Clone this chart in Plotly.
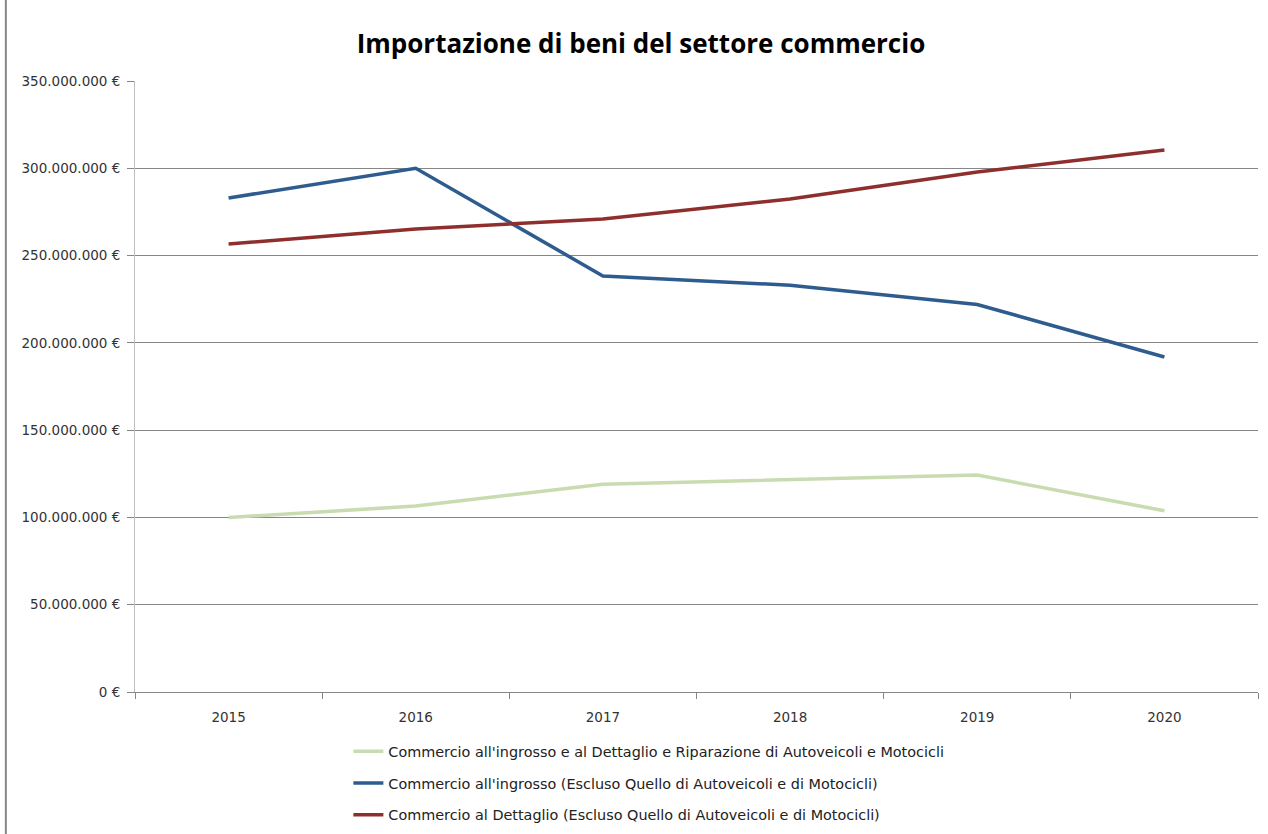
import plotly.graph_objects as go

# Years on the category axis
anni = ["2015", "2016", "2017", "2018", "2019", "2020"]

# Import values in euro for each sector
ingrosso_dettaglio_riparazione = [100_000_000, 106_500_000, 119_000_000, 121_500_000, 124_300_000, 103_800_000]
ingrosso = [283_000_000, 300_000_000, 238_300_000, 233_000_000, 222_000_000, 191_900_000]
dettaglio = [256_600_000, 265_200_000, 271_000_000, 282_400_000, 297_900_000, 310_500_000]

serie_nomi = [
    "Commercio all'ingrosso e al Dettaglio e Riparazione di Autoveicoli e Motocicli",
    "Commercio all'ingrosso (Escluso Quello di Autoveicoli e di Motocicli)",
    "Commercio al Dettaglio (Escluso Quello di Autoveicoli e di Motocicli)",
]

# Y axis ticks
y_ticks = [0, 50_000_000, 100_000_000, 150_000_000, 200_000_000, 250_000_000, 300_000_000, 350_000_000]
y_tick_labels = ["0 €", "50.000.000 €", "100.000.000 €", "150.000.000 €", "200.000.000 €",
                 "250.000.000 €", "300.000.000 €", "350.000.000 €"]

colori = ["#c9dbb0", "#2f5c8f", "#8f2f2d"]

fig = go.Figure()
for i, (nome, valori, colore) in enumerate(zip(serie_nomi, [ingrosso_dettaglio_riparazione, ingrosso, dettaglio], colori)):
    fig.add_trace(go.Scatter(
        x=anni, y=valori, name=nome, mode="lines",
        legendgroup=f"g{i}",
        line=dict(color=colore, width=3.5),
    ))

fig.update_layout(
    width=1268, height=834,
    paper_bgcolor="white", plot_bgcolor="white",
    margin=dict(l=135, r=10, t=81, b=142, autoexpand=False),
    title=dict(
        text="<b>Importazione di beni del settore commercio</b>",
        x=0.5055, xanchor="center", y=0.947, yanchor="middle",
        font=dict(family="Open Sans", size=26, color="black"),
    ),
    font=dict(family="DejaVu Sans", size=13.5, color="#333333"),
    showlegend=True,
    legend=dict(
        orientation="v", x=0.19, xanchor="left", y=-0.071, yanchor="top",
        font=dict(family="DejaVu Sans", size=14.4, color="#222222"),
        tracegroupgap=10, itemwidth=30,
    ),
)

fig.update_xaxes(
    type="category", range=[-0.5, 5.5],
    showline=True, linecolor="#868686", linewidth=1,
    ticks="outside", tickson="boundaries", ticklen=6, tickcolor="#868686",
    ticklabelstandoff=13,
    showgrid=False, automargin=False,
    tickfont=dict(family="DejaVu Sans", size=13.5, color="#333333"),
)
fig.update_yaxes(
    range=[0, 350_000_000],
    tickvals=y_ticks, ticktext=y_tick_labels,
    showline=True, linecolor="#bfbfbf", linewidth=1,
    ticks="outside", ticklen=7, tickcolor="#868686",
    ticklabelstandoff=4, automargin=False,
    showgrid=True, gridcolor="#868686", gridwidth=1,
    zeroline=False,
    tickfont=dict(family="DejaVu Sans", size=13.5, color="#333333"),
)

# Left border of the chart frame
fig.add_shape(type="line", xref="paper", yref="paper",
              x0=-0.115, x1=-0.115, y0=-0.3, y1=1.2,
              line=dict(color="#868686", width=2))

fig.write_html("out.html")
